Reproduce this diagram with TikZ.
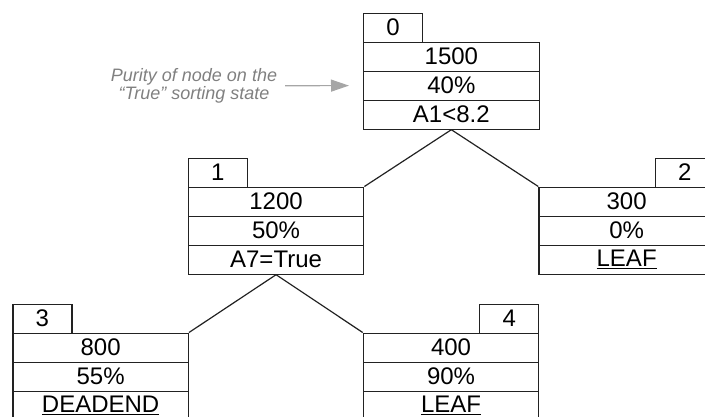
\documentclass[tikz,border=0pt]{standalone}
\usepackage{fontspec}
\setmainfont{Liberation Sans}
\usetikzlibrary{arrows.meta}
\definecolor{linec}{HTML}{222222}
\definecolor{notec}{HTML}{808080}
\definecolor{arrowc}{HTML}{A6A6A6}
\tikzset{
  cell/.style={draw=linec, line width=1.2pt, rectangle, inner sep=0pt, anchor=north west,
    minimum width=175.5pt, minimum height=29pt, font=\fontsize{24}{24}\selectfont},
  tabcell/.style={cell, minimum width=59pt},
  edge/.style={draw=linec, line width=1.2pt},
}
\newcommand{\mytreenode}[8]{%
  % #1 name, #2 left x, #3 top y of main box, #4 tab left x, #5 tab label, #6-#8 rows
  \node[tabcell] (#1t) at (#4,#3-29) {#5};
  \node[cell] (#1a) at (#2,#3) {#6};
  \node[cell] (#1b) at (#2,#3+29) {#7};
  \node[cell] (#1c) at (#2,#3+58) {#8};
}
\begin{document}
\begin{tikzpicture}[x=1pt,y=-1pt]
\useasboundingbox (0,0) rectangle (705,416);
\mytreenode{n0}{363}{41.5}{363}{0}{1500}{40\%}{A1<8.2}
\mytreenode{n1}{187.7}{186.5}{187.7}{1}{1200}{50\%}{A7=True}
\mytreenode{n2}{538.3}{186.5}{654.8}{2}{300}{0\%}{\underline{LEAF}}
\mytreenode{n3}{12.3}{332.5}{12.3}{3}{800}{55\%}{\underline{DEADEND}}
\mytreenode{n4}{362.7}{332.5}{479.2}{4}{400}{90\%}{\underline{LEAF}}
\draw[edge] (n0c.south) -- (n1a.north east);
\draw[edge] (n0c.south) -- (n2a.north west);
\draw[edge] (n1c.south) -- (n3a.north east);
\draw[edge] (n1c.south) -- (n4a.north west);
\node[text=notec, align=center, font=\fontsize{18}{17.5}\selectfont\itshape, inner sep=0pt]
  (note) at (194,86) {Purity of node on the\\“True” sorting state};
\coordinate (arrs) at (285,85.7);
\draw[draw=arrowc, line width=1.2pt, -{Triangle[length=18pt,width=12pt]}, fill=arrowc]
  (arrs) -- ([xshift=-14pt]n0b.west);
\end{tikzpicture}
\end{document}
